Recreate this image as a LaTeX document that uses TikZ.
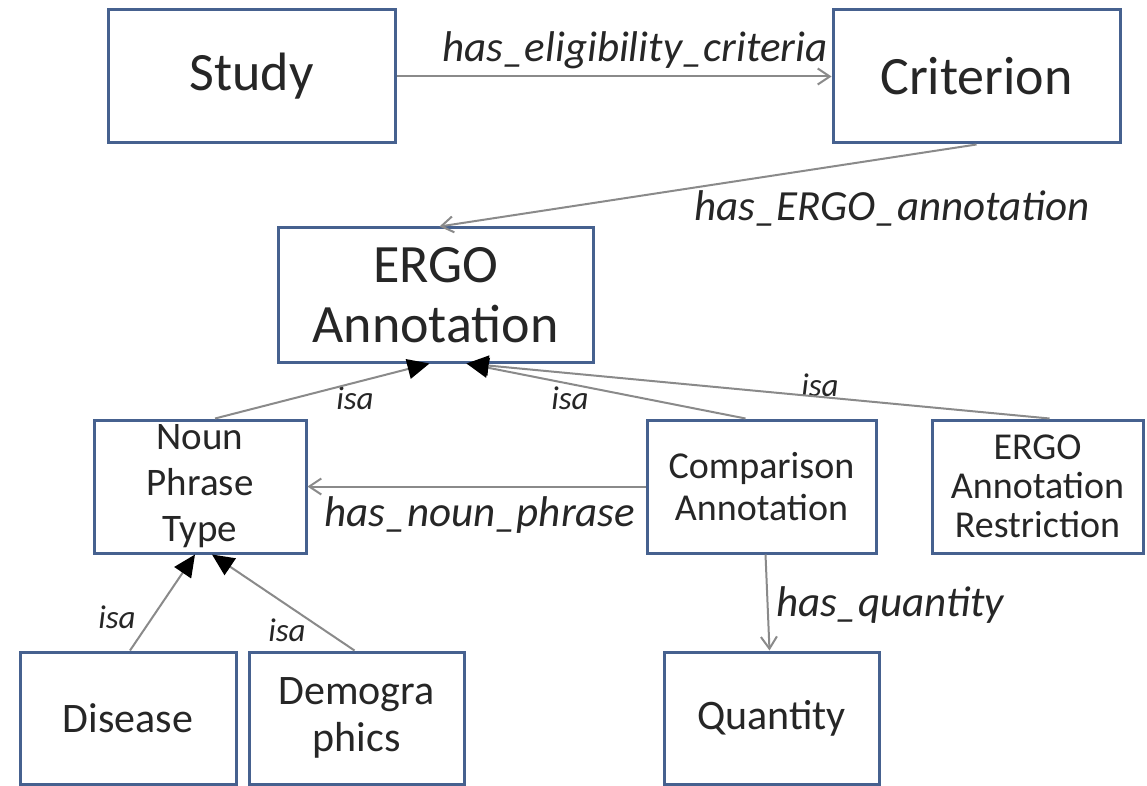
\documentclass[tikz,border=0pt]{standalone}
\usepackage{fontspec}
\setmainfont{Carlito}
\usetikzlibrary{arrows.meta}
\definecolor{boxline}{HTML}{46618F}
\definecolor{relline}{HTML}{8A8A8A}
\definecolor{txt}{HTML}{262626}
\tikzset{
  box/.style={rectangle,draw=boxline,line width=3pt,fill=white,text=txt,align=center,inner sep=0pt},
  bigbox/.style={box,minimum width=287pt,minimum height=133pt,font=\fontsize{54}{60}\selectfont},
  midbox/.style={box,minimum width=215pt,minimum height=133pt,font=\fontsize{38}{42}\selectfont},
  lowbox/.style={box,minimum width=215pt,minimum height=132pt,font=\fontsize{42}{47}\selectfont},
  rel/.style={draw=relline,line width=2pt,-{Straight Barb[length=12pt,width=16pt]}},
  isa/.style={draw=relline,line width=2pt,-{Triangle[length=22pt,width=20pt,color=black]}},
  rellabel/.style={text=txt,font=\fontsize{43}{48}\selectfont\itshape},
  isalabel/.style={text=txt,font=\fontsize{33}{36}\selectfont\itshape}
}
\begin{document}
\begin{tikzpicture}[x=1pt,y=-1pt]
			\useasboundingbox (0,0) rectangle (1147,786);
			\draw (251.5,76.5) node [bigbox] (study) {Study};
			\draw (976.5,76.5) node [bigbox] (crit) {Criterion};
			\draw (435.5,295) node [bigbox,minimum width=315pt,minimum height=134pt] (ergo) {ERGO\\Annotation};
			\draw (200,486.5) node [midbox,minimum width=212pt,font=\fontsize{39}{46}\selectfont] (noun) {Noun\\Phrase\\Type};
			\draw (761.5,486.5) node [midbox,minimum width=229pt] (comp) {Comparison\\Annotation};
			\draw (1037.5,486.5) node [midbox,minimum width=211pt,font=\fontsize{38}{39}\selectfont] (restr) {ERGO\\Annotation\\Restriction};
			\draw (128,718) node [lowbox,minimum width=216pt] (disease) {Disease};
			\draw (356.5,718) node [lowbox] (demo) {Demogra\\phics};
			\draw (771.5,718) node [lowbox] (qty) {Quantity};
			% relation labels
			\draw (635,50) node [rellabel] (l1) {has\_eligibility\_criteria};
			\draw (892,208) node [rellabel] (l2) {has\_ERGO\_annotation};
			\draw (480,515) node [rellabel] (l3) {has\_noun\_phrase};
			\draw (890,605) node [rellabel] (l4) {has\_quantity};
			\draw (355,398) node [isalabel] (i1) {isa};
			\draw (570,398) node [isalabel] (i2) {isa};
			\draw (820,385) node [isalabel] (i3) {isa};
			\draw (117,617) node [isalabel] (i4) {isa};
			\draw (287,630) node [isalabel] (i5) {isa};
			\path
				(study) edge [rel] (crit)
				(crit.south) edge [rel] ([xshift=4pt]ergo.north)
				(comp) edge [rel] (noun)
				([xshift=4pt]comp.south) edge [rel] ([xshift=-2pt]qty.north)
				([xshift=15pt]noun.north) edge [isa] ([xshift=-6pt]ergo.south)
				([xshift=-16pt]comp.north) edge [isa] ([xshift=31pt]ergo.south)
				([xshift=12pt]restr.north) edge [isa] ([xshift=31pt]ergo.south)
				([xshift=2pt]disease.north) edge [isa] ([xshift=-5pt]noun.south)
				([xshift=-2pt]demo.north) edge [isa] ([xshift=12pt]noun.south);
		\end{tikzpicture}
\end{document}
